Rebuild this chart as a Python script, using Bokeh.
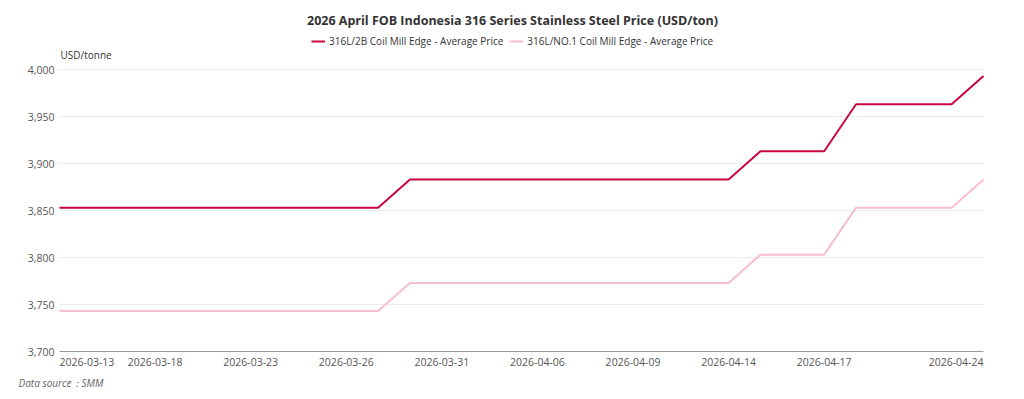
from bokeh.plotting import figure
from bokeh.models import Range1d, Legend, LegendItem, ColumnDataSource
from bokeh.core.properties import value
from bokeh.embed import file_html
from bokeh.resources import INLINE

dates = ["2026-03-13", "2026-03-16", "2026-03-17", "2026-03-18", "2026-03-19",
         "2026-03-20", "2026-03-23", "2026-03-24", "2026-03-25", "2026-03-26",
         "2026-03-27", "2026-03-30", "2026-03-31", "2026-04-01", "2026-04-02",
         "2026-04-06", "2026-04-07", "2026-04-08", "2026-04-09", "2026-04-10",
         "2026-04-13", "2026-04-14", "2026-04-15", "2026-04-16", "2026-04-17",
         "2026-04-20", "2026-04-21", "2026-04-22", "2026-04-23", "2026-04-24"]
price_2b = [3853, 3853, 3853, 3853, 3853, 3853, 3853, 3853, 3853, 3853,
            3853, 3883, 3883, 3883, 3883, 3883, 3883, 3883, 3883, 3883,
            3883, 3883, 3913, 3913, 3913, 3963, 3963, 3963, 3963, 3993]
price_no1 = [3743, 3743, 3743, 3743, 3743, 3743, 3743, 3743, 3743, 3743,
             3743, 3773, 3773, 3773, 3773, 3773, 3773, 3773, 3773, 3773,
             3773, 3773, 3803, 3803, 3803, 3853, 3853, 3853, 3853, 3883]
y_ticks = [3700, 3750, 3800, 3850, 3900, 3950, 4000]
x_tick_dates = ["2026-03-13", "2026-03-18", "2026-03-23", "2026-03-26",
                "2026-03-31", "2026-04-06", "2026-04-09", "2026-04-14",
                "2026-04-17", "2026-04-24"]
series_names = ["316L/2B Coil Mill Edge - Average Price",
                "316L/NO.1 Coil Mill Edge - Average Price"]
title_text = "2026 April FOB Indonesia 316 Series Stainless Steel Price (USD/ton)"
unit_text = "USD/tonne"
source_text = "Data source\uff1aSMM"

FONT = "Open Sans"
C1 = "#C8073F"
C2 = "#F9BDD1"
W, H = 1024, 399
# plot area in page pixels
PL, PR, PT, PB = 59, 983, 69, 351

n = len(dates)
y_lo, y_hi = y_ticks[0], y_ticks[-1]
ux = (PR - PL) / (n - 1)          # px per index
uy = (PB - PT) / (y_hi - y_lo)    # px per USD


def X(px):
    return (px - PL) / ux


def Y(py):
    return y_hi - (py - PT) / uy


p = figure(width=W, height=H, output_backend="svg", toolbar_location=None,
           x_range=Range1d(X(0), X(W)), y_range=Range1d(Y(H), Y(0)),
           x_axis_type=None, y_axis_type=None, min_border=0)
p.outline_line_color = None
p.background_fill_color = "white"
p.border_fill_color = "white"

idx = list(range(n))

# horizontal grid lines and the x axis line
grid_src = ColumnDataSource(dict(y=y_ticks[1:]))
p.segment(x0=0, x1=n - 1, y0="y", y1="y", source=grid_src,
          line_color="#ececec", line_width=1)
p.segment(x0=[0], x1=[n - 1], y0=[y_lo], y1=[y_lo], line_color="#9a9a9a", line_width=1)

src = ColumnDataSource(dict(x=idx, d=dates, a=price_2b, b=price_no1))
r1 = p.line("x", "a", source=src, line_color=C1, line_width=2)
r2 = p.line("x", "b", source=src, line_color=C2, line_width=2)

AX_FONT_SIZE = "10.5px"
AX_COLOR = "#555555"

# y tick labels
ylab_src = ColumnDataSource(dict(y=y_ticks, t=[f"{v:,}" for v in y_ticks]))
p.text(x=X(PL - 5), y="y", text="t", source=ylab_src, text_align="right",
       text_baseline="middle", text_font=value(FONT),
       text_font_size=value(AX_FONT_SIZE), text_color=AX_COLOR)

# x tick labels (the end labels stay inside the plot width)
tick_idx = [dates.index(d) for d in x_tick_dates]
x_lab_y = Y(PB + 10)
mid = [i for i in tick_idx if 0 < i < n - 1]
for xs, ts, align in [([0], [dates[0]], "left"),
                      (mid, [dates[i] for i in mid], "center"),
                      ([n - 1], [dates[n - 1]], "right")]:
    p.text(x=xs, y=[x_lab_y] * len(xs), text=ts, text_align=align,
           text_baseline="middle", text_font=value(FONT),
           text_font_size=value(AX_FONT_SIZE), text_color=AX_COLOR)

# unit, title, source
p.text(x=[X(PL + 1)], y=[Y(54)], text=[unit_text], text_align="left",
       text_baseline="middle", text_font=value(FONT),
       text_font_size=value("10px"), text_color="#333333")
p.text(x=[X(W / 2)], y=[Y(20)], text=[title_text], text_align="center",
       text_baseline="middle", text_font=value(FONT),
       text_font_size=value("12.5px"), text_font_style="bold",
       text_color="#333333")
p.text(x=[X(18)], y=[Y(382)], text=[source_text], text_align="left",
       text_baseline="middle", text_font=value(FONT),
       text_font_size=value("10px"), text_font_style="italic",
       text_color="#666666")

legend = Legend(items=[LegendItem(label=series_names[0], renderers=[r1]),
                       LegendItem(label=series_names[1], renderers=[r2])],
                orientation="horizontal", location=(311, H - 48),
                label_text_font=FONT, label_text_font_size="10px",
                label_text_color="#333333", glyph_width=14, glyph_height=12,
                label_standoff=4, spacing=6, padding=1, margin=0,
                label_height=12,
                border_line_color=None, background_fill_alpha=0)
p.add_layout(legend)

open("out.html", "w").write(file_html(p, INLINE))
